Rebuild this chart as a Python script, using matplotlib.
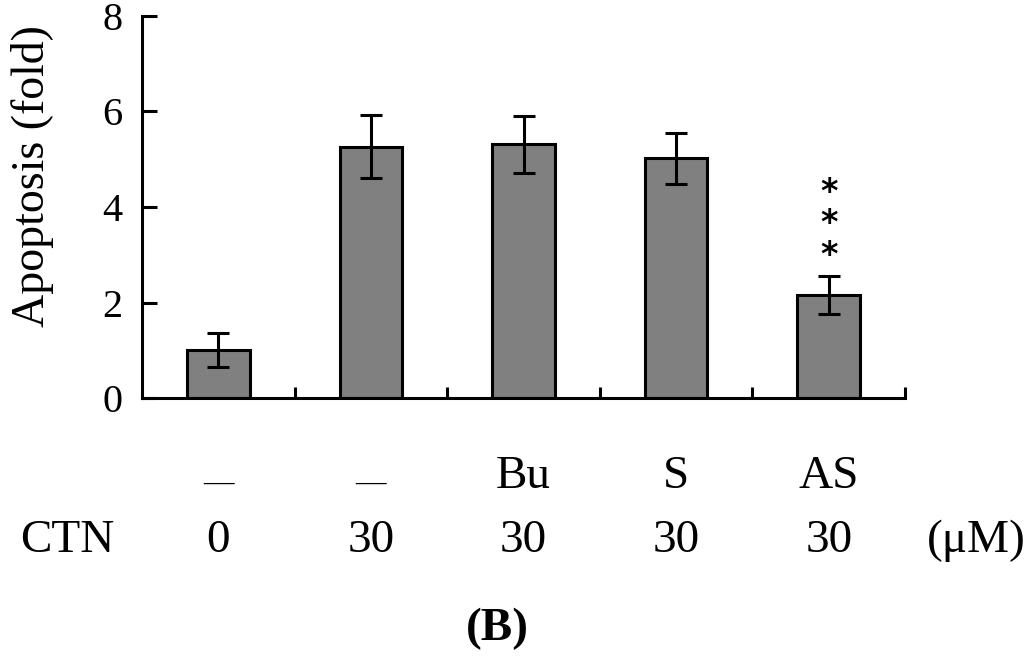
import matplotlib
matplotlib.use("Agg")
import matplotlib.pyplot as plt
import matplotlib.transforms as mtransforms
import numpy as np

plt.rcParams['font.family'] = ['Liberation Serif', 'DejaVu Serif']

# Data
treatments = ["—", "—", "Bu", "S", "AS"]
ctn_doses = ["0", "30", "30", "30", "30"]
apoptosis = [1.01, 5.26, 5.31, 5.02, 2.16]
errors = [0.36, 0.66, 0.60, 0.53, 0.40]
significance = ["", "", "", "", "***"]
yticks = [0, 2, 4, 6, 8]

W, H = 1024, 656
fig = plt.figure(figsize=(W / 100, H / 100), dpi=100)
ax = fig.add_axes([142 / W, (H - 398.3) / H, (905 - 142) / W, (398.3 - 15.7) / H])

x = np.arange(len(apoptosis))
ax.bar(x, apoptosis, width=0.41, color="#808080", edgecolor="black", linewidth=2.2, zorder=2)
ax.errorbar(x, apoptosis, yerr=errors, fmt="none", ecolor="black", elinewidth=2.2,
            capsize=8, capthick=2.2, zorder=3)

ax.set_xlim(-0.5, len(apoptosis) - 0.5)
ax.set_ylim(0, 8)
ax.set_yticks(yticks)
ax.set_yticklabels([str(v) for v in yticks], fontsize=29)
ax.tick_params(axis="y", direction="in", length=11, width=2.2, pad=14)
ax.set_xticks(x + 0.5)
ax.set_xticklabels([])
ax.tick_params(axis="x", direction="in", length=8, width=2.2)
for s in ["top", "right"]:
    ax.spines[s].set_visible(False)
for s in ["left", "bottom"]:
    ax.spines[s].set_linewidth(2.2)

fig.text(33 / W, (H - 176) / H, "Apoptosis (fold)", rotation=90, ha="center", va="center",
         fontsize=33)

# significance stars
for xi, v, e, sig in zip(x, apoptosis, errors, significance):
    if sig:
        ax.annotate("\n".join(sig), (xi, v + e), xytext=(0, 52), textcoords="offset pixels",
                    ha="center", va="center", fontsize=24, fontweight="bold",
                    fontfamily="DejaVu Sans", linespacing=0.93)

# category rows below axis
trans = mtransforms.blended_transform_factory(ax.transData, fig.transFigure)
for xi, t in zip(x, treatments):
    if t == "—":
        ax.text(xi, (H - 483) / H, t, transform=trans, ha="center", va="center", fontsize=22)
    else:
        ax.text(xi, (H - 488) / H, t, transform=trans, ha="center", va="baseline", fontsize=34)
for xi, d in zip(x, ctn_doses):
    ax.text(xi, (H - 552) / H, d, transform=trans, ha="center", va="baseline", fontsize=34)
fig.text(67 / W, (H - 552) / H, "CTN", ha="center", va="baseline", fontsize=34)
fig.text(976 / W, (H - 552) / H, "(μM)", ha="center", va="baseline", fontsize=34)
fig.text(497 / W, (H - 640) / H, "(B)", ha="center", va="baseline", fontsize=34, fontweight="bold")

fig.savefig("out.png", dpi=100)
